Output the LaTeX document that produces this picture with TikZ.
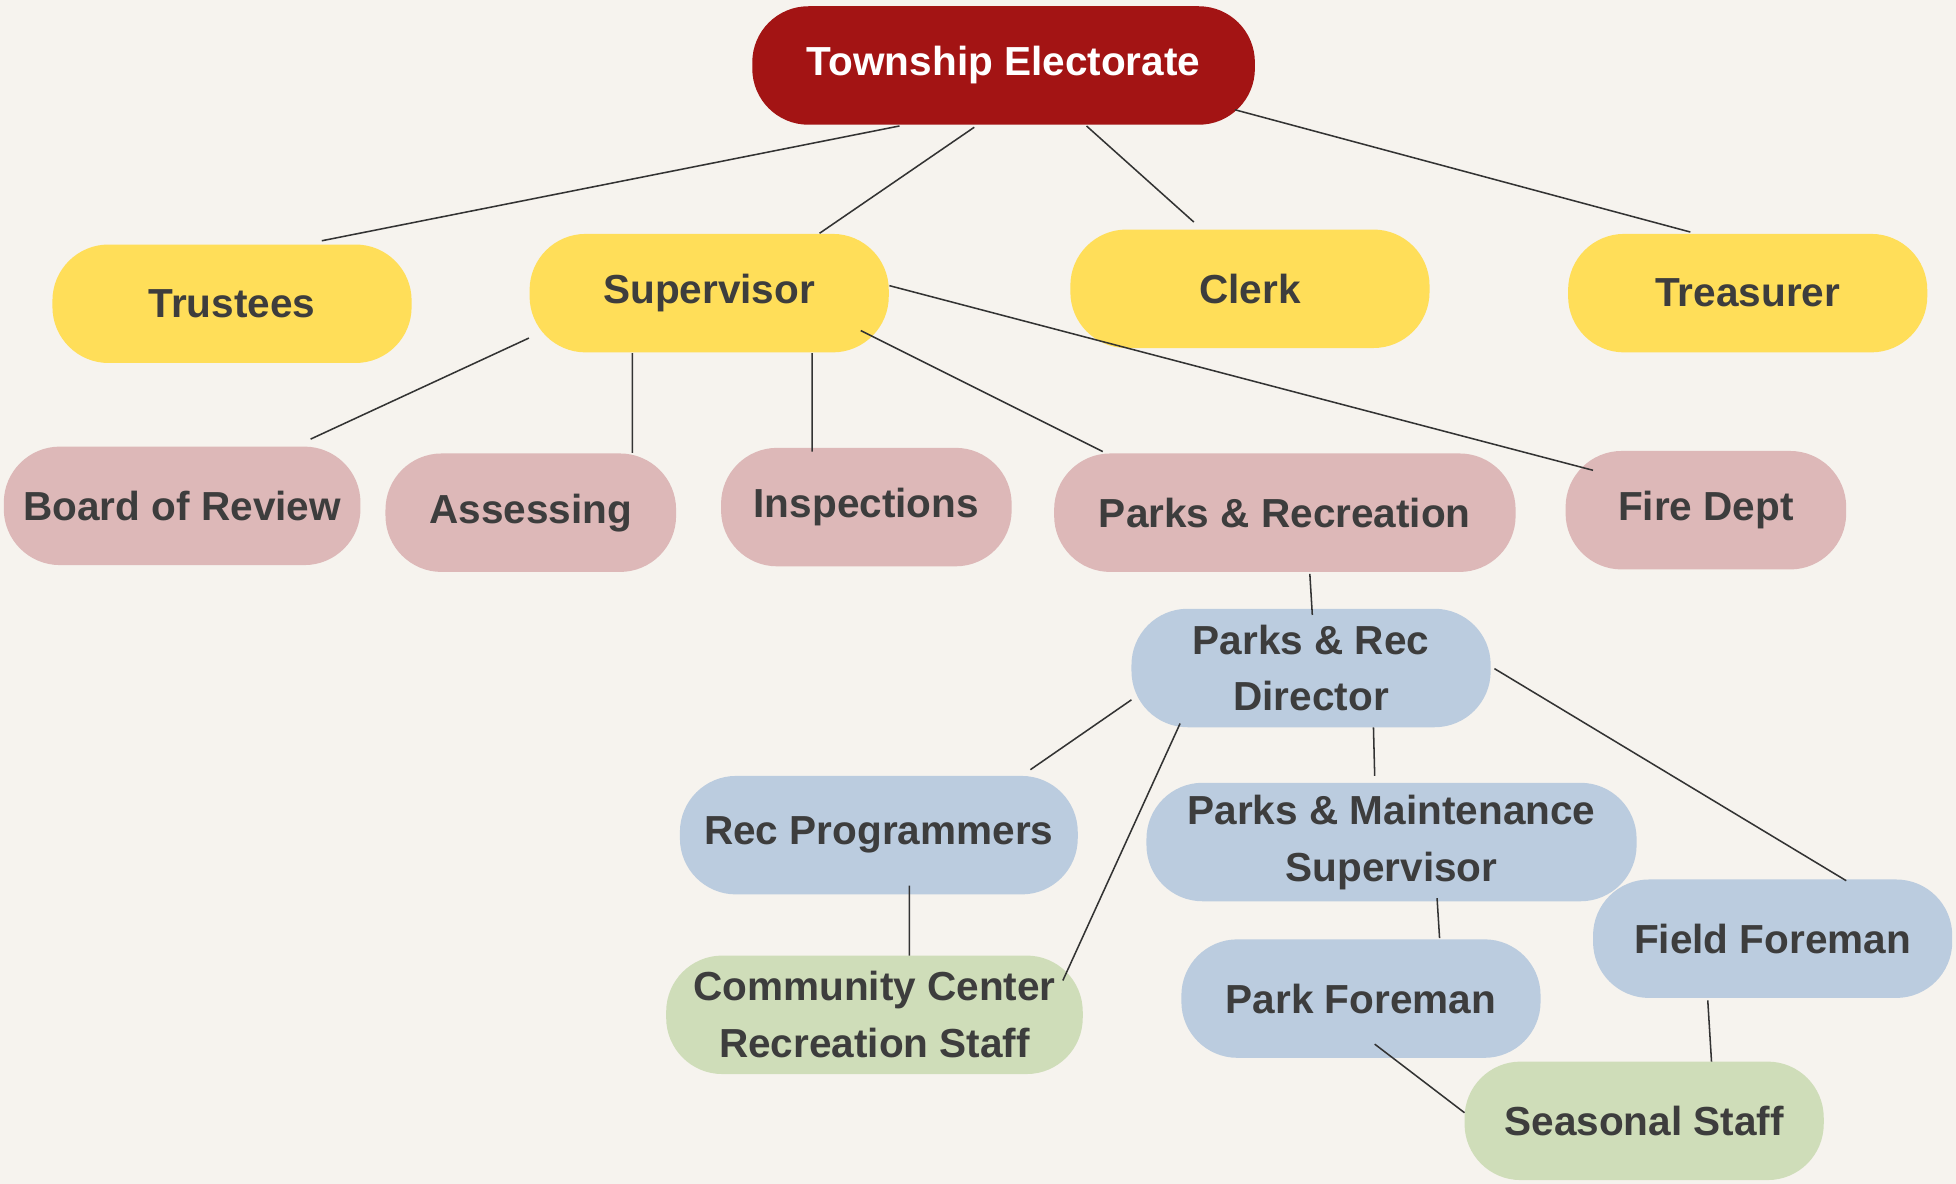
\documentclass[tikz,border=0pt]{standalone}
\usepackage{fontspec}
\setmainfont{Liberation Sans}
\usetikzlibrary{calc}

\definecolor{paper}{HTML}{F6F3EE}
\definecolor{topred}{HTML}{A31414}
\definecolor{yellowbox}{HTML}{FFDE59}
\definecolor{pinkbox}{HTML}{DDB8B8}
\definecolor{bluebox}{HTML}{BBCCDF}
\definecolor{greenbox}{HTML}{CFDDB9}
\definecolor{ink}{HTML}{3D3D3D}
\definecolor{wire}{HTML}{333333}

\tikzset{
	pill/.style = {rounded corners=0.9cm, minimum width=5.76cm, minimum height=1.9cm,
		inner sep=0pt, align=center, text=ink, font=\bfseries\fontsize{18.5}{26}\selectfont},
	link/.style = {draw=wire, line width=0.7pt}
}

\begin{document}
\begin{tikzpicture}[x=0.02cm, y=-0.02cm]
	\fill [paper] (0,0) rectangle (1568,949);
	\useasboundingbox (0,0) rectangle (1568,949);

	% top level
	\node [pill, fill=topred, text=white, minimum width=8.06cm] (elect) at (804.5,52.5) {Township Electorate};

	% officers
	\node [pill, fill=yellowbox] (trus) at (186,243.5) {Trustees};
	\node [pill, fill=yellowbox] (sup) at (568.5,235) {Supervisor};
	\node [pill, fill=yellowbox] (clerk) at (1002,231.5) {Clerk};
	\node [pill, fill=yellowbox] (treas) at (1401,235) {Treasurer};

	% departments
	\node [pill, fill=pinkbox, minimum width=5.72cm] (board) at (146,405.5) {Board of Review};
	\node [pill, fill=pinkbox, minimum width=4.66cm] (assess) at (425.5,411) {Assessing};
	\node [pill, fill=pinkbox, minimum width=4.66cm] (insp) at (694.5,406.5) {Inspections};
	\node [pill, fill=pinkbox, minimum width=7.4cm] (parks) at (1030,411) {Parks \& Recreation};
	\node [pill, fill=pinkbox, minimum width=4.5cm] (fire) at (1367.5,409) {Fire Dept};

	% parks staff
	\node [pill, fill=bluebox] (dir) at (1051,535.5) {Parks \& Rec\\Director};
	\node [pill, fill=bluebox, minimum width=6.38cm] (recp) at (704.5,669.5) {Rec Programmers};
	\node [pill, fill=bluebox, minimum width=7.86cm] (pms) at (1115.5,675) {Parks \& Maintenance\\Supervisor};
	\node [pill, fill=greenbox, minimum width=6.68cm] (comm) at (701,813.5) {Community Center\\Recreation Staff};
	\node [pill, fill=bluebox] (parkf) at (1091,800.5) {Park Foreman};
	\node [pill, fill=bluebox] (field) at (1421,752.5) {Field Foreman};
	\node [pill, fill=greenbox] (seas) at (1318,898.5) {Seasonal Staff};

	\begin{scope}[link]
		\draw ($(elect)+(-83.5,48.5)$) -- ($(trus)+(72,-50.5)$);
		\draw ($(elect)+(-23.5,49.5)$) -- ($(sup)+(88.5,-48)$);
		\draw ($(elect)+(66.5,48.5)$) -- ($(clerk)+(-45,-53.5)$);
		\draw ($(elect)+(185.5,35.5)$) -- ($(treas)+(-46,-49)$);

		\draw ($(sup)+(-144.5,36)$) -- ($(board)+(103,-53.5)$);
		\draw ($(sup)+(-61.5,48)$) -- ($(assess)+(81.5,-48)$);
		\draw ($(sup)+(82.5,48)$) -- ($(insp)+(-43.5,-44.5)$);
		\draw ($(sup)+(121.5,30)$) -- ($(parks)+(-146,-49)$);
		\draw ($(sup)+(144.5,-6)$) -- ($(fire)+(-90.5,-32)$);

		\draw ($(parks)+(20,49)$) -- ($(dir)+(1,-42.5)$);
		\draw ($(dir)+(-144,25.5)$) -- ($(recp)+(121.5,-52.5)$);
		\draw ($(dir)+(-105,44.5)$) -- ($(comm)+(151,-27.5)$);
		\draw ($(dir)+(50,47.5)$) -- ($(pms)+(-13.5,-53)$);
		\draw ($(dir)+(147,0.5)$) -- ($(field)+(59,-46.5)$);

		\draw ($(recp)+(24.5,40.5)$) -- ($(comm)+(28,-47.5)$);
		\draw ($(pms)+(36.5,45)$) -- ($(parkf)+(63,-48.5)$);
		\draw ($(parkf)+(11,36.5)$) -- ($(seas)+(-144,-6.5)$);
		\draw ($(field)+(-52,49.5)$) -- ($(seas)+(54,-47.5)$);
	\end{scope}
\end{tikzpicture}
\end{document}
